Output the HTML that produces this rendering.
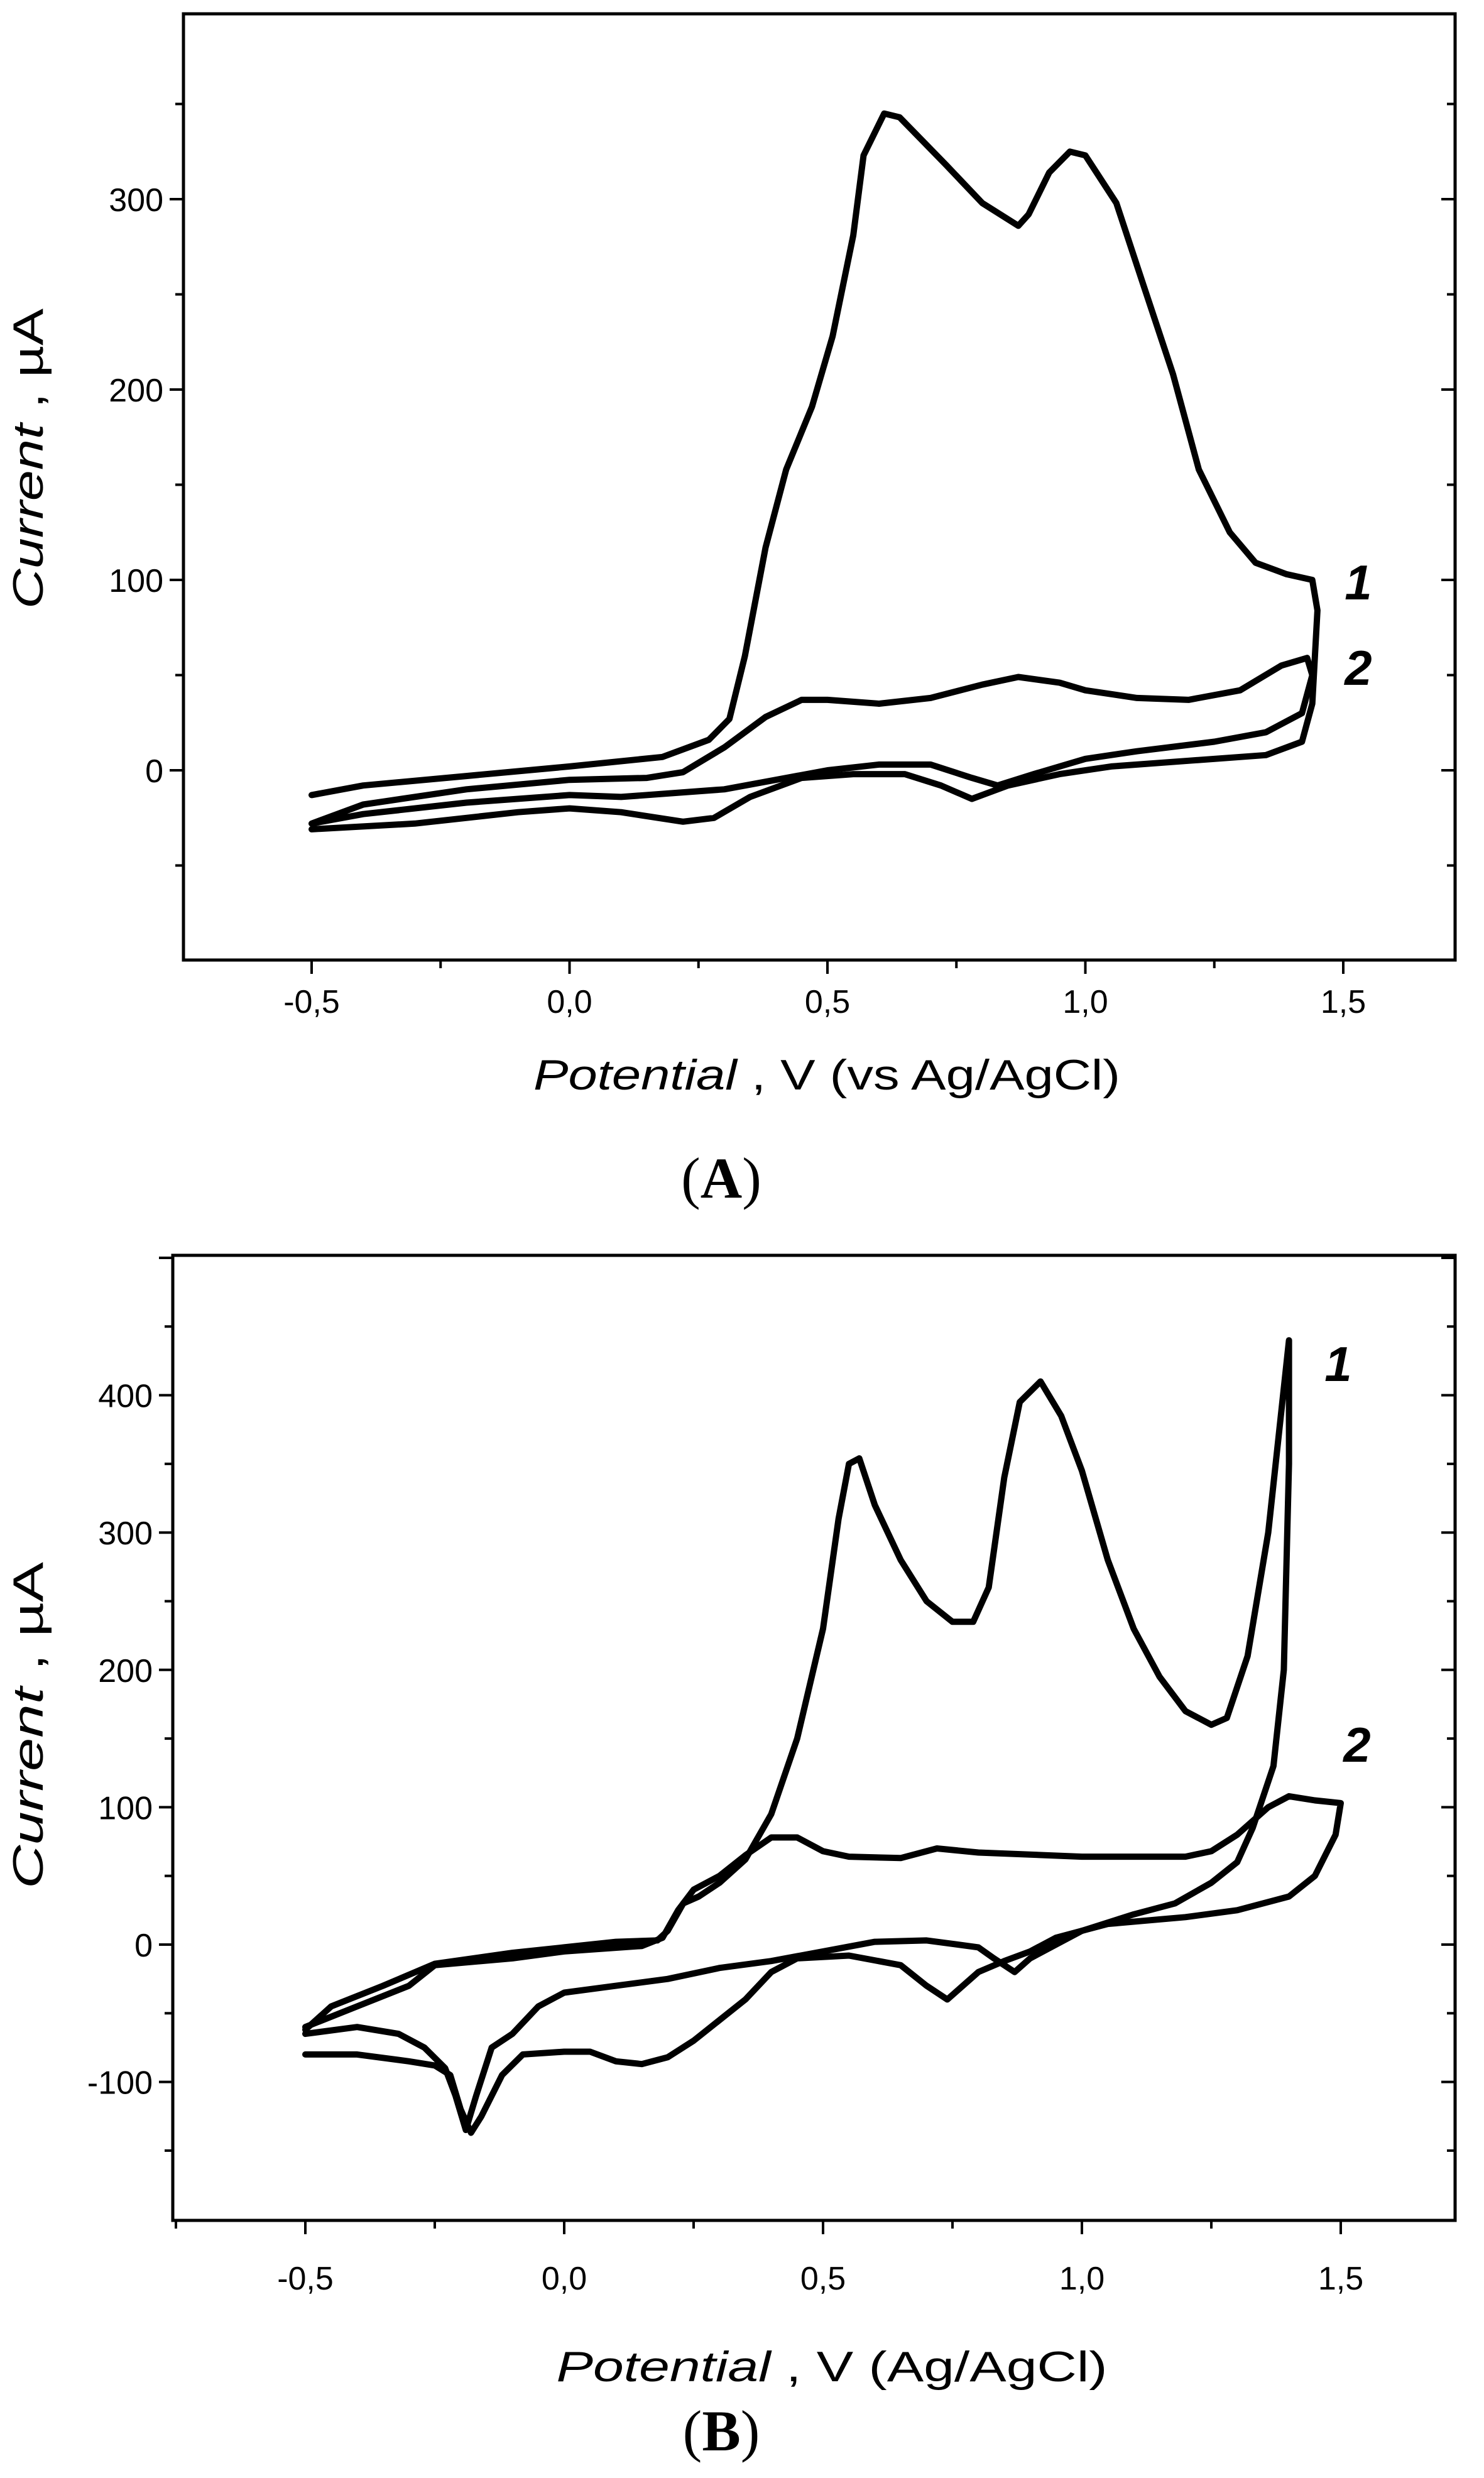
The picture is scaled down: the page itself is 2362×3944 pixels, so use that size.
<!DOCTYPE html>
<html><head><meta charset="utf-8"><style>
html,body{margin:0;padding:0;background:#fff}
svg{display:block}
text{font-family:"Liberation Sans",Arial,sans-serif;fill:#000}
</style></head><body>
<svg id="fig" width="2362" height="3944" viewBox="0 0 2362 3944" xmlns="http://www.w3.org/2000/svg"></svg>
<script>
// ---- Panel A data ----
const xTicksA = [-0.5, 0.0, 0.5, 1.0, 1.5];
const xTickLabelsA = ["-0,5", "0,0", "0,5", "1,0", "1,5"];
const yTicksA = [0, 100, 200, 300];
const yTickLabelsA = ["0", "100", "200", "300"];
const a1x = [-0.5,-0.4,-0.2,0.0,0.18,0.27,0.31,0.34,0.38,0.42,0.47,0.51,0.55,0.57,0.61,0.64,0.73,0.80,0.87,0.89,0.93,0.97,1.0,1.06,1.11,1.17,1.22,1.28,1.33,1.39,1.44,1.45,1.44,1.42,1.35,1.2,1.05,0.95,0.85,0.78,0.72,0.65,0.55,0.45,0.35,0.28,0.22,0.1,0.0,-0.1,-0.3,-0.5];
const a1y = [-13,-8,-3,2,7,16,27,60,117,158,191,228,281,323,345,343,318,298,286,292,314,325,323,298,257,208,158,125,109,103,100,84,35,15,8,5,2,-2,-8,-15,-8,-2,-2,-4,-14,-25,-27,-22,-20,-22,-28,-31];
const a2x = [-0.5,-0.4,-0.2,0.0,0.15,0.22,0.3,0.38,0.45,0.5,0.6,0.7,0.8,0.87,0.95,1.0,1.1,1.2,1.3,1.38,1.43,1.44,1.42,1.35,1.25,1.1,1.0,0.9,0.83,0.78,0.7,0.6,0.5,0.4,0.3,0.1,0.0,-0.2,-0.4,-0.5];
const a2y = [-28,-18,-10,-5,-4,-1,12,28,37,37,35,38,45,49,46,42,38,37,42,55,59,50,30,20,15,10,6,-2,-8,-4,3,3,0,-5,-10,-14,-13,-17,-23,-28];
// ---- Panel B data ----
const xTicksB = [-0.5, 0.0, 0.5, 1.0, 1.5];
const xTickLabelsB = ["-0,5", "0,0", "0,5", "1,0", "1,5"];
const yTicksB = [-100, 0, 100, 200, 300, 400];
const yTickLabelsB = ["-100", "0", "100", "200", "300", "400"];
const b1x = [-0.5,-0.45,-0.35,-0.25,-0.1,0.0,0.1,0.18,0.2,0.23,0.26,0.3,0.35,0.4,0.45,0.5,0.53,0.55,0.57,0.6,0.65,0.7,0.75,0.79,0.82,0.85,0.88,0.92,0.96,1.0,1.05,1.1,1.15,1.2,1.25,1.28,1.32,1.36,1.38,1.4,1.4,1.39,1.37,1.33,1.3,1.25,1.18,1.1,1.0,0.95,0.9,0.85,0.8,0.74,0.7,0.65,0.55,0.45,0.4,0.35,0.3,0.25,0.2,0.15,0.1,0.05,0.0,-0.08,-0.12,-0.16,-0.18,-0.2,-0.22,-0.25,-0.3,-0.4,-0.5];
const b1y = [-62,-45,-30,-14,-6,-2,2,3,10,30,35,45,62,95,150,230,310,350,354,320,280,250,235,235,260,340,395,410,385,345,280,230,195,170,160,165,210,300,370,440,350,200,130,85,60,45,30,22,10,5,-5,-12,-20,-40,-30,-15,-8,-10,-20,-40,-55,-70,-82,-87,-85,-78,-78,-80,-95,-125,-137,-120,-95,-88,-85,-80,-80];
const b2x = [-0.5,-0.4,-0.3,-0.25,-0.1,0.0,0.15,0.19,0.22,0.25,0.3,0.35,0.4,0.45,0.5,0.55,0.65,0.72,0.8,1.0,1.2,1.25,1.3,1.36,1.4,1.45,1.5,1.49,1.45,1.4,1.3,1.2,1.05,1.0,0.95,0.9,0.87,0.83,0.8,0.7,0.6,0.5,0.4,0.3,0.2,0.1,0.0,-0.05,-0.1,-0.14,-0.17,-0.19,-0.21,-0.23,-0.27,-0.32,-0.4,-0.5];
const b2y = [-60,-45,-30,-15,-10,-5,-1,5,25,40,50,65,78,78,68,64,63,70,67,64,64,68,80,100,108,105,103,80,50,35,25,20,15,10,0,-10,-20,-10,-2,3,2,-5,-12,-17,-25,-30,-35,-45,-65,-75,-110,-135,-110,-90,-75,-65,-60,-65];

const NS = "http://www.w3.org/2000/svg";
const svg = document.getElementById('fig');
function mk(tag, attrs, parent, txt){
  const e = document.createElementNS(NS, tag);
  for (const k in attrs) e.setAttribute(k, attrs[k]);
  if (txt !== undefined) e.textContent = txt;
  (parent || svg).appendChild(e);
  return e;
}

function panel(p){
  const g = mk('g', {});
  
  
  const X = v => p.x0 + (v - p.xv0) * p.xs;
  const Y = v => p.y0 - v * p.ys;
  const fr = mk('rect', {x:p.L, y:p.T, width:p.R-p.L, height:p.B-p.T, fill:'none', stroke:'#000', 'stroke-width':5}, g);
  
  
  for (let v = -0.75; v <= 1.76; v += 0.25){
    const xx = X(v); if (xx < p.L+3 || xx > p.R-3) continue;
    const major = Math.abs(Math.round(v*2) - v*2) < 1e-6;
    const t = mk('line', {x1:xx, x2:xx, y1:p.B, y2:p.B + (major?22:13), stroke:'#000','stroke-width':4}, g);
    
    
  }
  p.xTicks.forEach((v,i)=>{
    const lb = mk('text', {x:X(v), y:p.xLabY, 'font-size':52, 'text-anchor':'middle'}, g, p.xLabels[i]);
    
    
  });
  for (let v = p.yMin; v <= p.yMax; v += 50){
    const yy = Y(v); if (yy < p.T+3 || yy > p.B-3) continue;
    const major = v % 100 === 0;
    const t = mk('line', {x1:p.L - (major?22:13), x2:p.L, y1:yy, y2:yy, stroke:'#000','stroke-width':4}, g);
    
    
    const t2 = mk('line', {x1:p.R - (major?22:13), x2:p.R, y1:yy, y2:yy, stroke:'#000','stroke-width':4}, g);
    
    
  }
  p.yTicks.forEach((v,i)=>{
    const lb = mk('text', {x:p.L - 32, y:Y(v) + 19, 'font-size':52, 'text-anchor':'end'}, g, p.yLabels[i]);
    
    
  });
  p.series.forEach((s, si)=>{
    let d = '';
    s.x.forEach((v,i)=>{ d += (i?'L':'M') + X(v).toFixed(1) + ' ' + Y(s.y[i]).toFixed(1) + ' '; });
    const path = mk('path', {d:d, fill:'none', stroke:'#000', 'stroke-width':10, 'stroke-linejoin':'round', 'stroke-linecap':'round'}, g);
    
    
  });
  p.curveLabels.forEach((c, i)=>{
    const t = mk('text', {x:c[0], y:c[1], 'font-size':78, 'font-weight':'bold', 'font-style':'italic', 'text-anchor':'middle'}, g, String(i+1));
    
    
  });
  const xt = mk('text', {x:p.xTitleX, y:p.xTitleY, 'font-size':68, 'text-anchor':'middle', textLength:p.xTitleW, lengthAdjust:'spacingAndGlyphs'}, g);
  
  
  mk('tspan', {'font-style':'italic'}, xt, 'Potential');
  mk('tspan', {}, xt, ' ,  V ' + p.xUnit);
  const yt = mk('text', {x:0, y:0, 'font-size':68, 'text-anchor':'middle', transform:'translate(' + (p.yTitleX) + ',' + p.yTitleY + ') rotate(-90)', textLength:p.yTitleW, lengthAdjust:'spacingAndGlyphs'}, g);
  
  
  mk('tspan', {'font-style':'italic'}, yt, 'Current');
  mk('tspan', {}, yt, ' ,  \u00B5A');
  const pl = mk('text', {x:p.plX, y:p.plY, 'font-size':92, 'text-anchor':'middle', style:'font-family:"Liberation Serif",serif'}, g);
  
  
  mk('tspan', {}, pl, '(');
  mk('tspan', {'font-weight':'bold'}, pl, p.letter);
  mk('tspan', {}, pl, ')');
}

panel({name:'panel-a', L:292, R:2316, T:22, B:1528,
  x0:496, xv0:-0.5, xs:821, y0:1226, ys:3.03, yMin:-100, yMax:400,
  xTicks:xTicksA, xLabels:xTickLabelsA, yTicks:yTicksA, yLabels:yTickLabelsA,
  xLabY:1612, series:[{x:a1x,y:a1y},{x:a2x,y:a2y}],
  curveLabels:[[2162,954],[2162,1090]],
  xTitleX:1316, xTitleY:1734, xTitleW:934, xUnit:'(vs Ag/AgCl)',
  yTitleX:68, yTitleY:730, yTitleW:478,
  plX:1148, plY:1906, letter:'A'});

panel({name:'panel-b', L:275, R:2316, T:1998, B:3534,
  x0:486, xv0:-0.5, xs:824, y0:3095, ys:2.186, yMin:-200, yMax:500,
  xTicks:xTicksB, xLabels:xTickLabelsB, yTicks:yTicksB, yLabels:yTickLabelsB,
  xLabY:3644, series:[{x:b1x,y:b1y},{x:b2x,y:b2y}],
  curveLabels:[[2130,2198],[2160,2804]],
  xTitleX:1324, xTitleY:3790, xTitleW:877, xUnit:'(Ag/AgCl)',
  yTitleX:68, yTitleY:2746, yTitleW:520,
  plX:1148, plY:3900, letter:'B'});
</script>
</body></html>
